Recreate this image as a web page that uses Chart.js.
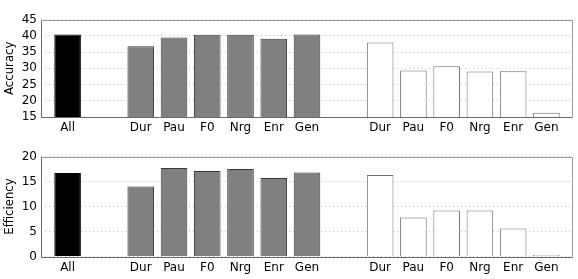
<!DOCTYPE html>
<html>
<head>
<meta charset="utf-8">
<script src="https://cdn.jsdelivr.net/npm/chart.js@4/dist/chart.umd.min.js"></script>
<style>
  html, body { margin: 0; padding: 0; background: #fff; }
  body { width: 578px; height: 279px; position: relative; overflow: hidden; }
  .panel { position: absolute; left: 0; width: 578px; }
</style>
</head>
<body>
<div class="panel" style="top:0;height:140px"><canvas id="top" width="578" height="140"></canvas></div>
<div class="panel" style="top:140px;height:139px"><canvas id="bottom" width="578" height="139"></canvas></div>
<script>
// ---- data ----
const allLabels = ['All'];
const featureLabels = ['Dur', 'Pau', 'F0', 'Nrg', 'Enr', 'Gen'];

const accuracyAll = [40.4];
const accuracyGray = [36.8, 39.5, 40.3, 40.3, 39.1, 40.4];
const accuracyWhite = [37.9, 29.3, 30.6, 29.0, 29.1, 16.3];

const efficiencyAll = [16.7];
const efficiencyGray = [14.0, 17.7, 17.1, 17.5, 15.7, 16.8];
const efficiencyWhite = [16.3, 7.8, 9.2, 9.2, 5.6, 0.3];

const accuracyTicks = [15, 20, 25, 30, 35, 40, 45];
const efficiencyTicks = [0, 5, 10, 15, 20];

// ---- layout helpers ----
const GROUP_GAP = 2.2;   // distance between groups, in bar units
const groupStarts = [0, GROUP_GAP, GROUP_GAP + (featureLabels.length - 1) + GROUP_GAP];
const posAll = allLabels.map((_, i) => groupStarts[0] + i);
const posGray = featureLabels.map((_, i) => groupStarts[1] + i);
const posWhite = featureLabels.map((_, i) => groupStarts[2] + i);
const tickPositions = [...posAll, ...posGray, ...posWhite];
const tickLabels = [...allLabels, ...featureLabels, ...featureLabels];
const xMin = posAll[0] - 0.8;
const xMax = posWhite[posWhite.length - 1] + 0.8;

const frame = {
  id: 'frame',
  afterDatasetsDraw(chart) {
    const a = chart.chartArea, ctx = chart.ctx;
    const l = Math.round(a.left) + 0.5, t = Math.round(a.top) + 0.5;
    const r = Math.round(a.right) - 0.5, b = Math.round(a.bottom) + 0.5;
    ctx.save();
    ctx.lineWidth = 1;
    ctx.strokeStyle = '#9a9a9a';
    ctx.beginPath(); ctx.moveTo(l, t); ctx.lineTo(r, t); ctx.lineTo(r, b); ctx.stroke();
    ctx.strokeStyle = '#6a6a6a';
    ctx.beginPath(); ctx.moveTo(l, t); ctx.lineTo(l, b); ctx.lineTo(r, b); ctx.stroke();
    ctx.restore();
  }
};

function toPoints(pos, vals) { return vals.map((v, i) => ({ x: pos[i], y: v })); }

function makeChart(id, title, all, gray, white, yTicks, padTop, xAxisH) {
  const ds = (data, bg, border) => ({
    data, backgroundColor: bg, borderColor: border, borderWidth: 1,
    borderSkipped: 'start', grouped: false, barPercentage: 0.8, categoryPercentage: 1.0
  });
  return new Chart(document.getElementById(id), {
    type: 'bar',
    data: {
      datasets: [
        ds(toPoints(posAll, all), '#000000', '#000000'),
        ds(toPoints(posGray, gray), '#808080', '#3a3a3a'),
        ds(toPoints(posWhite, white), '#ffffff', '#6e6e6e')
      ]
    },
    options: {
      responsive: false,
      devicePixelRatio: 1,
      animation: false,
      layout: { padding: { top: padTop, right: 5, left: 0, bottom: 0 } },
      plugins: { legend: { display: false }, tooltip: { enabled: false } },
      scales: {
        x: {
          type: 'linear',
          min: xMin, max: xMax,
          offset: false,
          afterBuildTicks(axis) { axis.ticks = tickPositions.map(v => ({ value: v })); },
          afterFit(axis) { axis.height = xAxisH; },
          grid: { display: false, drawTicks: false },
          border: { display: false },
          ticks: {
            autoSkip: false, maxRotation: 0, padding: 4,
            color: '#000',
            font: { family: 'DejaVu Sans', size: 12 },
            callback: (v, i) => tickLabels[i]
          }
        },
        y: {
          min: yTicks[0], max: yTicks[yTicks.length - 1],
          afterBuildTicks(axis) { axis.ticks = yTicks.map(v => ({ value: v })); },
          afterFit(axis) { axis.width = 41; },
          grid: { color: '#c4c4c4', lineWidth: 1, drawTicks: false },
          border: { display: false, dash: [1, 3] },
          ticks: {
            autoSkip: false, padding: 4, color: '#000',
            font: { family: 'DejaVu Sans', size: 12 }
          },
          title: {
            display: true, text: title, color: '#000',
            padding: { top: 2, bottom: 0 },
            font: { family: "'DejaVu Sans Condensed', 'Liberation Sans Narrow', 'Liberation Sans', sans-serif", size: 13 }
          }
        }
      }
    },
    plugins: [frame]
  });
}

makeChart('top', 'Accuracy', accuracyAll, accuracyGray, accuracyWhite, accuracyTicks, 19.5, 23);
makeChart('bottom', 'Efficiency', efficiencyAll, efficiencyGray, efficiencyWhite, efficiencyTicks, 16.5, 22.5);
</script>
</body>
</html>
